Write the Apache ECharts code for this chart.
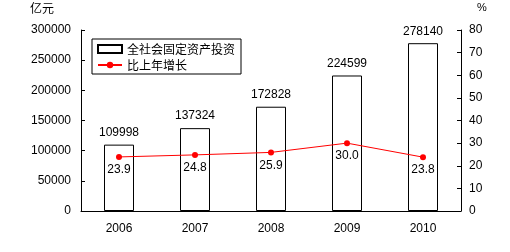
<!DOCTYPE html>
<html><head><meta charset="utf-8">
<script src="https://cdn.jsdelivr.net/npm/echarts@6/dist/echarts.min.js"></script>
<style>html,body{margin:0;padding:0;background:#fff}#c{width:510px;height:252px}</style>
</head><body><div id="c"></div>
<script>
const categories = ['2006','2007','2008','2009','2010'];
const investment = [109998, 137324, 172828, 224599, 278140];
const growth = [23.9, 24.8, 25.9, 30.0, 23.8];
const seriesNames = ['全社会固定资产投资', '比上年增长'];
const leftUnit = '亿元';
const rightUnit = '%';

const font = "'Liberation Sans', Arial, 'Noto Sans CJK SC', sans-serif";
const chart = echarts.init(document.getElementById('c'), null, {renderer: 'canvas'});
chart.setOption({
  animation: false,
  textStyle: {fontFamily: font, color: '#000'},
  grid: {left: 81, right: 49, top: 30, bottom: 41},
  graphic: [
    {type: 'text', left: 30, top: 2, style: {text: leftUnit, font: "12px 'Noto Sans CJK SC'", fill: '#000'}},
    {type: 'text', left: 477, top: 2, style: {text: rightUnit, font: "11px " + font, fill: '#000'}}
  ],
  legend: {
    orient: 'vertical', left: 92, top: 39,
    borderColor: '#000', borderWidth: 1, borderRadius: 0,
    padding: [4, 6, 3, 5], itemGap: 4, itemWidth: 24, itemHeight: 8,
    textStyle: {fontFamily: "'Noto Sans CJK SC'", fontSize: 12, color: '#000'},
    data: [
      {name: seriesNames[0], icon: 'rect'},
      {name: seriesNames[1]}
    ]
  },
  xAxis: {
    type: 'category', data: categories,
    axisLine: {lineStyle: {color: '#000', width: 1}},
    axisTick: {inside: true, length: 4, lineStyle: {color: '#000'}},
    axisLabel: {fontSize: 12, color: '#000', margin: 12, fontFamily: font}
  },
  yAxis: [
    {type: 'value', min: 0, max: 300000, interval: 50000,
     axisLine: {show: true, lineStyle: {color: '#000'}},
     axisTick: {show: true, inside: true, length: 4, lineStyle: {color: '#000'}},
     axisLabel: {fontSize: 12, color: '#000', margin: 10, fontFamily: font, formatter: v => String(v)},
     splitLine: {show: false}},
    {type: 'value', min: 0, max: 80, interval: 10, position: 'right',
     axisLine: {show: true, lineStyle: {color: '#000'}},
     axisTick: {show: true, inside: true, length: 4, lineStyle: {color: '#000'}},
     axisLabel: {fontSize: 12, color: '#000', margin: 8, fontFamily: font, formatter: v => String(v)},
     splitLine: {show: false}}
  ],
  series: [
    {name: seriesNames[0], type: 'bar', data: investment, barWidth: 30, yAxisIndex: 0,
     itemStyle: {color: '#fff', borderColor: '#000', borderWidth: 1},
     label: {show: true, position: 'top', distance: 6, fontSize: 12, color: '#000', fontFamily: font}},
    {name: seriesNames[1], type: 'line', data: growth, yAxisIndex: 1,
     symbol: 'circle', symbolSize: 6,
     lineStyle: {color: '#ff0000', width: 1},
     itemStyle: {color: '#ff0000'},
     label: {show: true, position: 'bottom', distance: 4, fontSize: 12, color: '#000', fontFamily: font,
             formatter: p => p.value.toFixed(1)}}
  ]
});
</script></body></html>
